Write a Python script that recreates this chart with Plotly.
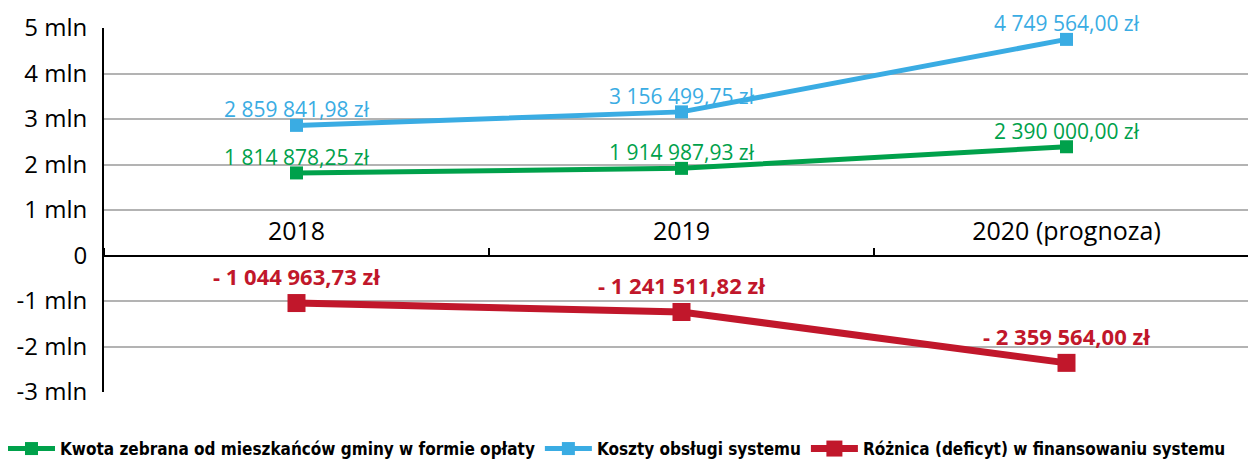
import plotly.graph_objects as go

categories = ["2018", "2019", "2020 (prognoza)"]
kwota = [1814878.25, 1914987.93, 2390000.00]
koszty = [2859841.98, 3156499.75, 4749564.00]
roznica = [-1044963.73, -1241511.82, -2359564.00]

kwota_lbl = ["1 814 878,25 zł", "1 914 987,93 zł", "2 390 000,00 zł"]
koszty_lbl = ["2 859 841,98 zł", "3 156 499,75 zł", "4 749 564,00 zł"]
roznica_lbl = ["- 1 044 963,73 zł", "- 1 241 511,82 zł", "- 2 359 564,00 zł"]

y_ticks = [-3e6, -2e6, -1e6, 0, 1e6, 2e6, 3e6, 4e6, 5e6]
y_tick_text = ["-3 mln", "-2 mln", "-1 mln", "0", "1 mln", "2 mln", "3 mln", "4 mln", "5 mln"]

GREEN = "#00a14b"
BLUE = "#3aace3"
RED = "#c1172b"
label_font = "Open Sans"
legend_font = "DejaVu Sans Condensed"

W, H = 1256, 461
L, R, T, B = 96, 5, 20, 77
PW, PH = W - L - R, H - T - B

series = [
    ("Kwota zebrana od mieszkańców gminy w formie opłaty", kwota, kwota_lbl, GREEN, 5, 13, "normal", 21, 0),
    ("Koszty obsługi systemu", koszty, koszty_lbl, BLUE, 5, 13, "normal", 21, 0),
    ("Różnica (deficyt) w finansowaniu systemu", roznica, roznica_lbl, RED, 7, 18, "bold", 22, 10),
]

fig = go.Figure()
annotations = []
for name, vals, lbls, col, lw, ms, weight, fs, ys in series:
    fig.add_trace(go.Scatter(
        x=categories, y=vals, mode="lines+markers", name=name,
        line=dict(color=col, width=lw), marker=dict(symbol="square", size=ms, color=col),
        cliponaxis=False,
    ))
    for i, (v, t) in enumerate(zip(vals, lbls)):
        annotations.append(dict(
            x=i, y=v, xref="x", yref="y", text=t, showarrow=False,
            xanchor="center", yanchor="bottom", yshift=ys,
            font=dict(color=col, size=fs, family=label_font, weight=weight),
        ))

fig.update_layout(
    width=W, height=H,
    margin=dict(l=L, r=R, t=T, b=B, autoexpand=False),
    plot_bgcolor="white", paper_bgcolor="white",
    showlegend=True,
    annotations=annotations,
    legend=dict(orientation="h", x=-(L + 5) / PW, xanchor="left", y=-57 / PH, yanchor="middle",
                font=dict(family=legend_font, size=17, color="black", weight="bold"),
                itemwidth=47, traceorder="normal", bgcolor="rgba(0,0,0,0)"),
    xaxis=dict(
        type="category", range=[-0.5, 2.5],
        anchor="free", position=3 / 8, side="top",
        showline=True, linecolor="black", linewidth=2,
        tickson="boundaries", ticks="outside", ticklen=7, tickcolor="black", tickwidth=2,
        showgrid=False, tickfont=dict(family=label_font, size=25, color="black"),
        ticklabelstandoff=5,
    ),
    yaxis=dict(
        range=[-3e6, 5e6], tickvals=y_ticks, ticktext=y_tick_text,
        showgrid=True, gridcolor="#b3b3b3", gridwidth=1.5,
        zeroline=False, showline=True, linecolor="black", linewidth=2,
        ticks="", tickfont=dict(family=label_font, size=24, color="black"),
        ticklabelstandoff=10,
    ),
)

fig.write_html("out.html")
